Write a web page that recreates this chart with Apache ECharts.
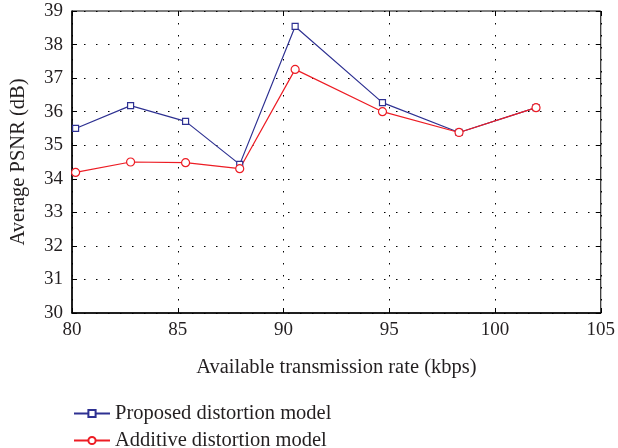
<!DOCTYPE html>
<html>
<head>
<meta charset="utf-8">
<script src="https://cdn.jsdelivr.net/npm/echarts@6/dist/echarts.min.js"></script>
<style>
  html, body { margin: 0; padding: 0; background: #fff; }
  #chart { width: 618px; height: 448px; }
</style>
</head>
<body>
<div id="chart"></div>
<script>
// data
var rates = [80.17, 82.77, 85.37, 87.93, 90.55, 94.68, 98.3, 101.94];
var proposed = [35.5, 36.18, 35.71, 34.43, 38.54, 36.27, 35.38, 36.12];
var additive = [34.19, 34.5, 34.48, 34.3, 37.26, 36.0, 35.38, 36.12];
var xTicks = [80, 85, 90, 95, 100, 105];
var yTicks = [30, 31, 32, 33, 34, 35, 36, 37, 38, 39];

var font = "'Liberation Serif', 'DejaVu Serif', serif";
var txt = '#231f20';

function pairs(xs, ys) {
  return xs.map(function (x, i) { return [x, ys[i]]; });
}

var chart = echarts.init(document.getElementById('chart'));

var dotted = { color: '#000', width: 1, type: [1.5, 10.5] };

function legendRow(name, top) {
  return {
    left: 68, top: top, itemWidth: 36, itemHeight: 9,
    textStyle: { fontFamily: font, fontSize: 20.5, color: txt },
    data: [name]
  };
}

var option = {
  animation: false,
  textStyle: { fontFamily: font },
  grid: {
    left: 72, right: 16, top: 11, bottom: 135,
    show: true, borderColor: '#000', borderWidth: 1, backgroundColor: 'transparent'
  },
  xAxis: [{
    type: 'value', min: xTicks[0], max: xTicks[xTicks.length - 1], interval: 5,
    name: 'Available transmission rate (kbps)', nameLocation: 'middle', nameGap: 44,
    nameTextStyle: { fontFamily: font, fontSize: 20.5, color: txt },
    axisLine: { lineStyle: { color: '#000', width: 1.5 } },
    axisTick: { inside: true, length: 5, lineStyle: { color: '#000' } },
    axisLabel: { fontFamily: font, fontSize: 19, color: txt, margin: 8 },
    splitLine: { show: true, lineStyle: dotted }
  }, {
    type: 'value', position: 'top', min: 80, max: 105, interval: 5,
    axisLine: { show: false },
    axisTick: { inside: true, length: 5, lineStyle: { color: '#000' } },
    axisLabel: { show: false }, splitLine: { show: false }
  }],
  yAxis: [{
    type: 'value', min: yTicks[0], max: yTicks[yTicks.length - 1], interval: 1,
    name: 'Average PSNR (dB)', nameLocation: 'middle', nameGap: 43,
    nameTextStyle: { fontFamily: font, fontSize: 20.5, color: txt },
    axisLine: { show: true, lineStyle: { color: '#000', width: 1.5 } },
    axisTick: { show: true, inside: true, length: 5, lineStyle: { color: '#000' } },
    axisLabel: { fontFamily: font, fontSize: 19, color: txt, margin: 9 },
    splitLine: { show: true, lineStyle: dotted }
  }, {
    type: 'value', position: 'right', min: 30, max: 39, interval: 1,
    axisLine: { show: false },
    axisTick: { show: true, inside: true, length: 5, lineStyle: { color: '#000' } },
    axisLabel: { show: false }, splitLine: { show: false }
  }],
  legend: [
    legendRow('Proposed distortion model', 398),
    legendRow('Additive distortion model', 425)
  ],
  series: [{
    name: 'Proposed distortion model', type: 'line',
    data: pairs(rates, proposed),
    symbol: 'rect', symbolSize: 6,
    lineStyle: { color: '#2e3192', width: 1.2 },
    itemStyle: { color: '#fff', borderColor: '#2e3192', borderWidth: 1.2 },
    color: '#2e3192'
  }, {
    name: 'Additive distortion model', type: 'line',
    data: pairs(rates, additive),
    symbol: 'circle', symbolSize: 8,
    lineStyle: { color: '#ed1c24', width: 1.2 },
    itemStyle: { color: '#fff', borderColor: '#ed1c24', borderWidth: 1.2 },
    color: '#ed1c24'
  }]
};

chart.setOption(option);
</script>
</body>
</html>
